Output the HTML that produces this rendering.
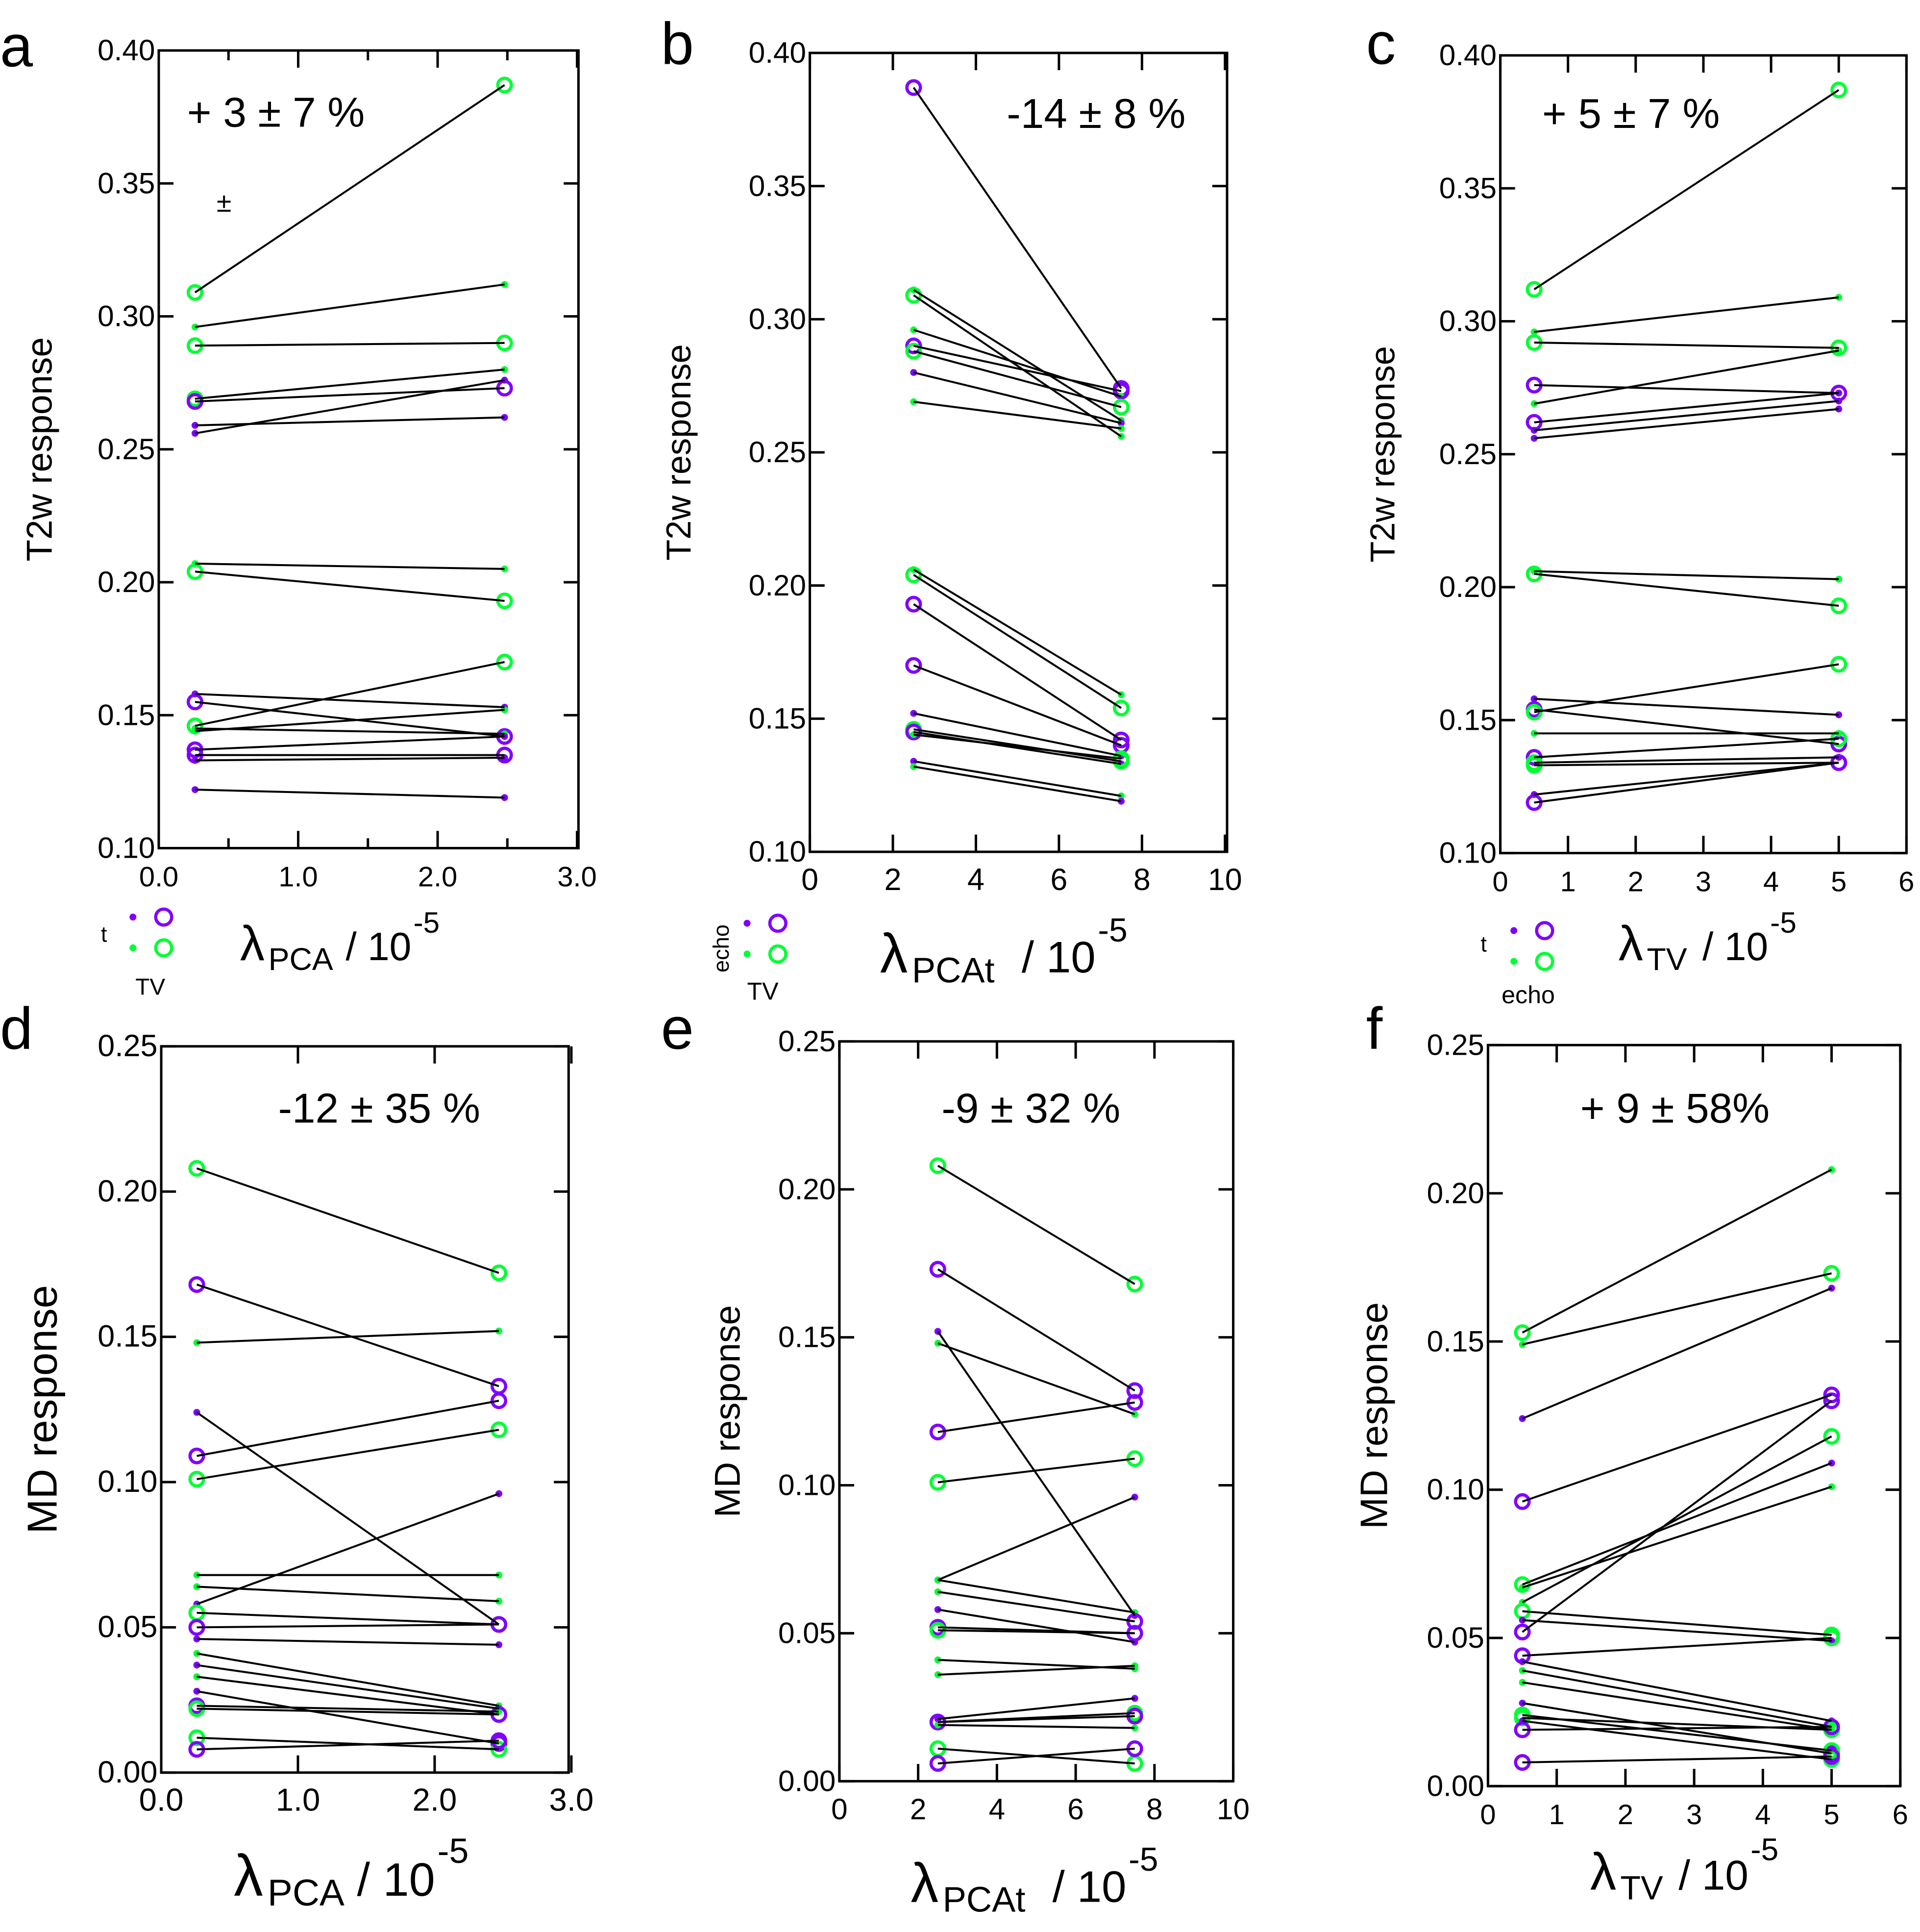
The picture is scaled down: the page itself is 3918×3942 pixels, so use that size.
<!DOCTYPE html>
<html><head><meta charset="utf-8"><style>
html,body{margin:0;padding:0;background:#fff;}
svg{display:block;}
text{font-family:"Liberation Sans",sans-serif;fill:#000;}
</style></head><body>
<svg id="fig" width="3918" height="3942" viewBox="0 0 1560 1569.5" preserveAspectRatio="none" xmlns="http://www.w3.org/2000/svg">
<rect x="0" y="0" width="1560" height="1570" fill="#fff"/>
</svg>
<script>
// ---- data ----
const aLeft=[0.309,0.296,0.289,0.269,0.268,0.256,0.259,0.207,0.204,0.158,0.155,0.146,0.144,0.145,0.137,0.135,0.133,0.122];
const aRight=[0.387,0.312,0.290,0.280,0.273,0.276,0.262,0.205,0.193,0.153,0.142,0.170,0.152,0.143,0.142,0.135,0.134,0.119];
const aLT=['go','gd','go','go','po','pd','pd','gd','go','pd','po','go','gd','gd','po','po','pd','pd'];
const aRT=['go','gd','go','gd','po','pd','pd','gd','go','pd','po','go','gd','gd','pd','po','pd','pd'];

const bLeft=[0.387,0.311,0.309,0.296,0.290,0.288,0.280,0.269,0.206,0.204,0.193,0.170,0.152,0.146,0.145,0.144,0.134,0.132];
const bRight=[0.274,0.262,0.256,0.271,0.273,0.267,0.261,0.259,0.159,0.154,0.142,0.140,0.136,0.134,0.133,0.135,0.121,0.119];
const bLT=['po','gd','go','gd','po','go','pd','gd','gd','go','po','po','pd','go','po','gd','pd','gd'];
const bRT=['po','gd','gd','gd','po','go','pd','gd','gd','go','po','po','pd','go','pd','go','gd','pd'];

const cLeft=[0.312,0.296,0.292,0.276,0.269,0.262,0.259,0.256,0.206,0.205,0.158,0.154,0.153,0.145,0.136,0.134,0.133,0.122,0.119];
const cRight=[0.387,0.309,0.290,0.273,0.289,0.273,0.270,0.267,0.203,0.193,0.152,0.141,0.171,0.145,0.143,0.136,0.134,0.134,0.134];
const cLT=['go','gd','go','po','gd','po','pd','pd','gd','go','pd','po','go','gd','po','go','go','pd','po'];
const cRT=['go','gd','go','po','gd','pd','pd','pd','gd','go','pd','po','go','gd','go','pd','po','po','po'];

const dLeft=[0.208,0.168,0.148,0.124,0.109,0.101,0.068,0.064,0.058,0.055,0.050,0.046,0.041,0.037,0.033,0.028,0.023,0.022,0.012,0.008];
const dRight=[0.172,0.133,0.152,0.051,0.128,0.118,0.068,0.059,0.096,0.051,0.051,0.044,0.023,0.022,0.020,0.010,0.021,0.020,0.008,0.011];
const dLT=['go','po','gd','pd','po','go','gd','gd','pd','go','po','pd','gd','pd','gd','pd','po','go','go','po'];
const dRT=['go','po','gd','go','po','go','gd','gd','pd','go','po','pd','gd','pd','go','po','gd','po','go','po'];

const eLeft=[0.208,0.173,0.152,0.148,0.118,0.101,0.068,0.068,0.064,0.058,0.052,0.051,0.041,0.036,0.021,0.020,0.020,0.019,0.011,0.006];
const eRight=[0.168,0.132,0.056,0.124,0.128,0.109,0.096,0.057,0.054,0.047,0.050,0.050,0.038,0.039,0.028,0.023,0.022,0.018,0.006,0.011];
const eLT=['go','po','pd','gd','po','go','gd','gd','gd','pd','po','go','gd','gd','pd','go','po','gd','go','po'];
const eRT=['go','po','pd','gd','po','go','pd','gd','po','pd','go','po','gd','gd','pd','go','po','gd','go','po'];

const fLeft=[0.153,0.149,0.124,0.096,0.068,0.067,0.062,0.059,0.056,0.052,0.044,0.042,0.039,0.035,0.028,0.024,0.023,0.019,0.022,0.008];
const fRight=[0.208,0.173,0.168,0.132,0.109,0.101,0.118,0.051,0.049,0.130,0.050,0.022,0.020,0.019,0.011,0.012,0.019,0.020,0.009,0.010];
const fLT=['go','gd','pd','po','go','gd','gd','go','pd','po','po','pd','gd','gd','pd','go','go','po','pd','po'];
const fRT=['gd','go','pd','po','pd','gd','go','go','pd','po','go','pd','gd','go','po','go','gd','po','go','po'];

const t2Ticks=[0.10,0.15,0.20,0.25,0.30,0.35,0.40];
const mdTicks=[0.00,0.05,0.10,0.15,0.20,0.25];
const xTicksPCA=[0,1,2,3];
const xTicksPCAt=[0,2,4,6,8,10];
const xTicksTV=[0,1,2,3,4,5,6];

const NS='http://www.w3.org/2000/svg';
const svg=document.getElementById('fig');
function mk(tag,attrs,parent){const e=document.createElementNS(NS,tag);for(const k in attrs)e.setAttribute(k,attrs[k]);(parent||svg).appendChild(e);return e;}
function txt(s,x,y,size,parent,anchor){const t=mk('text',{x:x,y:y,'font-size':size,'text-anchor':anchor||'start'},parent);t.textContent=s;return t;}
const PUR='#8000ff',GRN='#00ff33';

function panel(c){
  const g=mk('g',{});
  
  
  const X=v=>c.x0+(v-c.xmin)/(c.xmax-c.xmin)*(c.x1-c.x0);
  const Y=v=>c.y1-(v-c.ymin)/(c.ymax-c.ymin)*(c.y1-c.y0);
  const box=mk('rect',{x:c.x0,y:c.y0,width:c.x1-c.x0,height:c.y1-c.y0,fill:'none',stroke:'#000','stroke-width':2},g);
  
  
  c.yt.forEach(v=>{const y=Y(v);
    mk('line',{x1:c.x0,x2:c.x0+12,y1:y,y2:y,stroke:'#000','stroke-width':2},g);
    mk('line',{x1:c.x1,x2:c.x1-12,y1:y,y2:y,stroke:'#000','stroke-width':2},g);
    const t=txt(v.toFixed(2),c.x0-3,y+8,c.ys,g,'end');
    
    });
  c.xt.forEach((v,i)=>{const x=X(v);
    mk('line',{x1:x,x2:x,y1:c.y0,y2:c.y0+14,stroke:'#000','stroke-width':2},g);
    mk('line',{x1:x,x2:x,y1:c.y1,y2:c.y1-14,stroke:'#000','stroke-width':2},g);
    if(c.minor&&i<c.xt.length-1){const xm=X(v+(c.xt[1]-c.xt[0])/2);
      mk('line',{x1:xm,x2:xm,y1:c.y0,y2:c.y0+8,stroke:'#000','stroke-width':2},g);
      mk('line',{x1:xm,x2:xm,y1:c.y1,y2:c.y1-8,stroke:'#000','stroke-width':2},g);}
    const t=txt(c.fmt(v),x,c.y1+31,c.xs,g,'middle');
    
    });
  const yl=txt(c.ylab,0,0,c.yls,g,'middle');
  yl.setAttribute('transform','translate('+c.ylx+','+((c.y0+c.y1)/2)+') rotate(-90)');
  
  
  const L=txt(c.id,c.lx,c.ly,48,g);
  
  
  const an=txt(c.ann,c.ax,c.ay,34,g);
  
  
  function marker(x,y,t){
    const col=t[0]==='p'?PUR:GRN;
    const m=t[1]==='o'?mk('circle',{cx:x,cy:y,r:5.5,fill:'none',stroke:col,'stroke-width':2.6},g):mk('circle',{cx:x,cy:y,r:2.8,fill:col},g);
    
    }
  c.L.forEach((v,i)=>{marker(X(c.px[0]),Y(v),c.LT[i]);marker(X(c.px[1]),Y(c.R[i]),c.RT[i]);});
  c.L.forEach((v,i)=>{const l=mk('line',{x1:X(c.px[0]),y1:Y(v),x2:X(c.px[1]),y2:Y(c.R[i]),stroke:'#000','stroke-width':1.6},g);
    
    });
  const xg=mk('g',{},g);
  
  
  const s=c.xls;
  txt('λ',c.tx,c.ty,s*1.25,xg);
  txt(c.sub,c.tx+s*0.72,c.ty+8,s*0.8,xg);
  const sx=c.tx+s*0.72+c.sub.length*s*0.55+10;
  txt('/ 10',sx,c.ty,s,xg);
  txt('-5',sx+s*1.72,c.ty-s*0.7,s*0.75,xg);
}
const fmt1=v=>v.toFixed(1), fmt0=v=>String(v);
panel({id:'a',x0:129,x1:470,y0:41,y1:689,xmin:0,xmax:3.01,ymin:0.1,ymax:0.4,yt:t2Ticks,xt:xTicksPCA,minor:true,fmt:fmt1,ys:24,xs:23,
  ylab:'T2w response',yls:29,ylx:42,lx:0,ly:54,ann:'+ 3 ± 7 %',ax:152,ay:103,px:[0.26,2.48],L:aLeft,R:aRight,LT:aLT,RT:aRT,sub:'PCA',xls:32,tx:195,ty:780});
panel({id:'b',x0:658,x1:997,y0:43,y1:692,xmin:0,xmax:10.05,ymin:0.1,ymax:0.4,yt:t2Ticks,xt:xTicksPCAt,minor:false,fmt:fmt0,ys:24,xs:25,
  ylab:'T2w response',yls:28,ylx:561,lx:537,ly:52,ann:'-14 ± 8 %',ax:818,ay:104,px:[2.5,7.5],L:bLeft,R:bRight,LT:bLT,RT:bRT,sub:'PCAt',xls:36,tx:715,ty:790});
panel({id:'c',x0:1219,x1:1549,y0:45,y1:693,xmin:0,xmax:6,ymin:0.1,ymax:0.4,yt:t2Ticks,xt:xTicksTV,minor:false,fmt:fmt0,ys:24,xs:23,
  ylab:'T2w response',yls:28,ylx:1133,lx:1110,ly:52,ann:'+ 5 ± 7 %',ax:1253,ay:104,px:[0.5,5],L:cLeft,R:cRight,LT:cLT,RT:cRT,sub:'TV',xls:32,tx:1315,ty:780});
panel({id:'d',x0:131,x1:462,y0:850,y1:1440,xmin:0,xmax:2.98,ymin:0,ymax:0.25,yt:mdTicks,xt:xTicksPCA,minor:false,fmt:fmt1,ys:25,xs:26,
  ylab:'MD response',yls:34,ylx:46,lx:0,ly:852,ann:'-12 ± 35 %',ax:226,ay:912,px:[0.26,2.47],L:dLeft,R:dRight,LT:dLT,RT:dRT,sub:'PCA',xls:38,tx:190,ty:1540});
panel({id:'e',x0:682,x1:1002,y0:846,y1:1447,xmin:0,xmax:10,ymin:0,ymax:0.25,yt:mdTicks,xt:xTicksPCAt,minor:false,fmt:fmt0,ys:24,xs:24,
  ylab:'MD response',yls:29,ylx:601,lx:537,ly:852,ann:'-9 ± 32 %',ax:765,ay:912,px:[2.5,7.5],L:eLeft,R:eRight,LT:eLT,RT:eRT,sub:'PCAt',xls:36,tx:740,ty:1545});
panel({id:'f',x0:1209,x1:1544,y0:849,y1:1451,xmin:0,xmax:6,ymin:0,ymax:0.25,yt:mdTicks,xt:xTicksTV,minor:false,fmt:fmt0,ys:24,xs:23,
  ylab:'MD response',yls:31,ylx:1127,lx:1110,ly:852,ann:'+ 9 ± 58%',ax:1284,ay:912,px:[0.5,5],L:fLeft,R:fRight,LT:fLT,RT:fRT,sub:'TV',xls:34,tx:1292,ty:1535});

const pm=txt('±',176,172,22);



function legend(id,dx,topY){
  const g=mk('g',{});
  
  
  mk('circle',{cx:dx,cy:topY,r:2.8,fill:PUR},g);
  mk('circle',{cx:dx+25,cy:topY,r:6.5,fill:'none',stroke:PUR,'stroke-width':2.6},g);
  mk('circle',{cx:dx,cy:topY+25,r:2.8,fill:GRN},g);
  mk('circle',{cx:dx+25,cy:topY+25,r:6.5,fill:'none',stroke:GRN,'stroke-width':2.6},g);
  return g;
}
let g1=legend('a',108,745);
txt('t',82,765,18,g1);txt('TV',110,808,19,g1);
let g2=legend('b',607,750);
const ec=txt('echo',0,0,18,g2);ec.setAttribute('transform','translate(592,790) rotate(-90)');
txt('TV',607,812,20,g2);
let g3=legend('c',1230,756);
txt('t',1203,773,18,g3);txt('echo',1220,815,20,g3);
</script>
</body></html>
